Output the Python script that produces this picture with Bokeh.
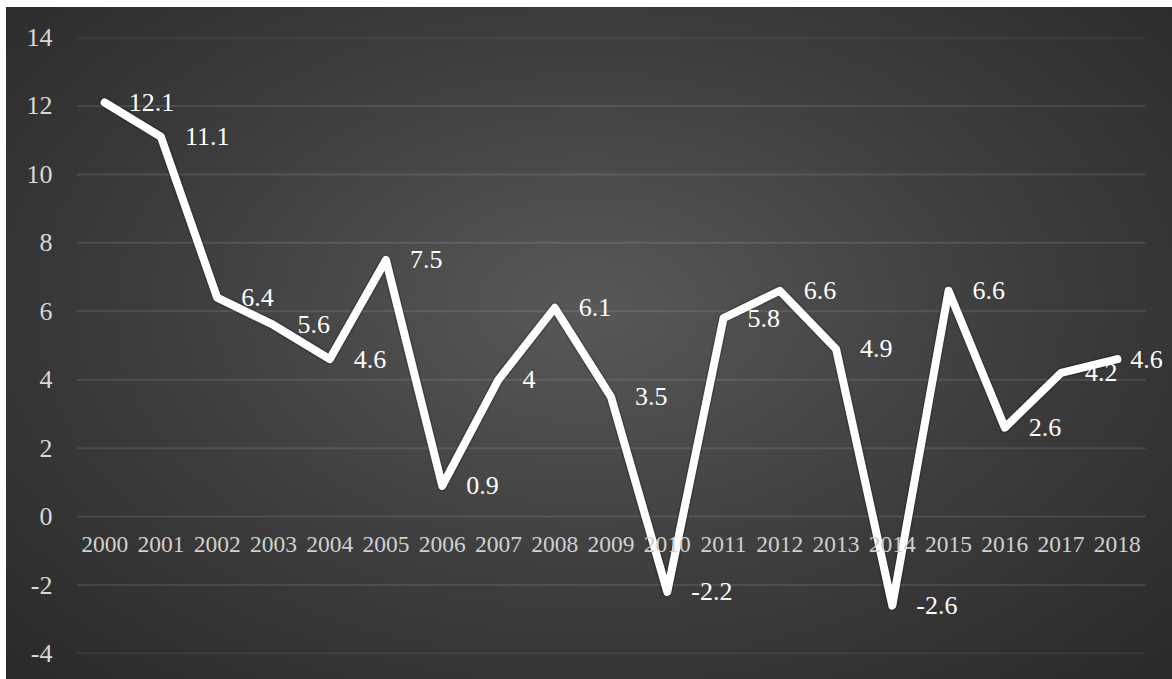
from bokeh.plotting import figure
from bokeh.models import FixedTicker, Range1d, ColumnDataSource, LabelSet
from bokeh.core.properties import value
from bokeh.embed import file_html
from bokeh.resources import INLINE

years = ["2000", "2001", "2002", "2003", "2004", "2005", "2006", "2007", "2008", "2009",
         "2010", "2011", "2012", "2013", "2014", "2015", "2016", "2017", "2018"]
growth = [12.1, 11.1, 6.4, 5.6, 4.6, 7.5, 0.9, 4.0, 6.1, 3.5,
          -2.2, 5.8, 6.6, 4.9, -2.6, 6.6, 2.6, 4.2, 4.6]
labels = ["12.1", "11.1", "6.4", "5.6", "4.6", "7.5", "0.9", "4", "6.1", "3.5",
          "-2.2", "5.8", "6.6", "4.9", "-2.6", "6.6", "2.6", "4.2", "4.6"]
y_ticks = [-4, -2, 0, 2, 4, 6, 8, 10, 12, 14]
y_tick_labels = ["-4", "-2", "0", "2", "4", "6", "8", "10", "12", "14"]

FONT = "serif"

n = len(years)
xs = list(range(n))
src = ColumnDataSource(dict(x=xs, y=growth))
src_main = ColumnDataSource(dict(x=xs[:-1], y=growth[:-1], t=labels[:-1]))
src_last = ColumnDataSource(dict(x=xs[-1:], y=growth[-1:], t=labels[-1:]))

plot_w = 1069
extra_r = 27
p = figure(x_range=Range1d(-0.5, n - 0.5 + extra_r * n / plot_w), y_range=Range1d(-4, 14),
           frame_width=plot_w + extra_r, frame_height=616,
           min_border_left=70, min_border_right=0, min_border_top=30, min_border_bottom=26,
           output_backend="svg", toolbar_location=None)
p.background_fill_alpha = 0
p.border_fill_alpha = 0
p.outline_line_color = None
p.styles = {"background": "radial-gradient(ellipse farthest-corner at 50% 45%, #585858 0%, #3c3c3c 55%, #292929 100%)",
            "margin-left": "6px", "margin-top": "7px"}

p.xgrid.grid_line_color = None
p.ygrid.grid_line_color = None
p.segment(x0=[-0.5] * len(y_ticks), x1=[n - 0.5] * len(y_ticks), y0=y_ticks, y1=y_ticks,
          line_color="#ffffff", line_alpha=0.1, line_width=2, level="underlay")

p.yaxis.ticker = FixedTicker(ticks=y_ticks)
p.yaxis.major_label_overrides = dict(zip(y_ticks, y_tick_labels))
p.yaxis.axis_line_color = None
p.yaxis.major_tick_line_color = None
p.yaxis.minor_tick_line_color = None
p.yaxis.major_tick_out = 0
p.yaxis.major_tick_in = 0
p.yaxis.minor_tick_out = 0
p.yaxis.major_label_text_font = FONT
p.yaxis.major_label_text_font_size = "26px"
p.yaxis.major_label_text_color = "#d9d9d9"
p.yaxis.major_label_standoff = 24

p.xaxis.ticker = FixedTicker(ticks=xs)
p.xaxis.major_label_overrides = dict(zip(xs, years))
p.xaxis.fixed_location = 0
p.xaxis.axis_line_color = None
p.xaxis.major_tick_line_color = None
p.xaxis.minor_tick_line_color = None
p.xaxis.major_label_text_font = FONT
p.xaxis.major_label_text_font_size = "23.5px"
p.xaxis.major_label_text_color = "#d0d0d0"
p.xaxis.major_label_standoff = 14

p.line("x", "y", source=src, line_color="black", line_alpha=0.18, line_width=11, line_join="round", line_cap="round")
p.line("x", "y", source=src, line_color="white", line_width=8, line_join="round", line_cap="round")

p.add_layout(LabelSet(x="x", y="y", text="t", source=src_main, x_offset=24, text_baseline="middle",
                      text_align="left", text_font=value(FONT), text_font_size="26px", text_color="white"))
p.add_layout(LabelSet(x="x", y="y", text="t", source=src_last, x_offset=13, text_baseline="middle",
                      text_align="left", text_font=value(FONT), text_font_size="26px", text_color="white"))

open("out.html", "w").write(file_html(p, INLINE))
